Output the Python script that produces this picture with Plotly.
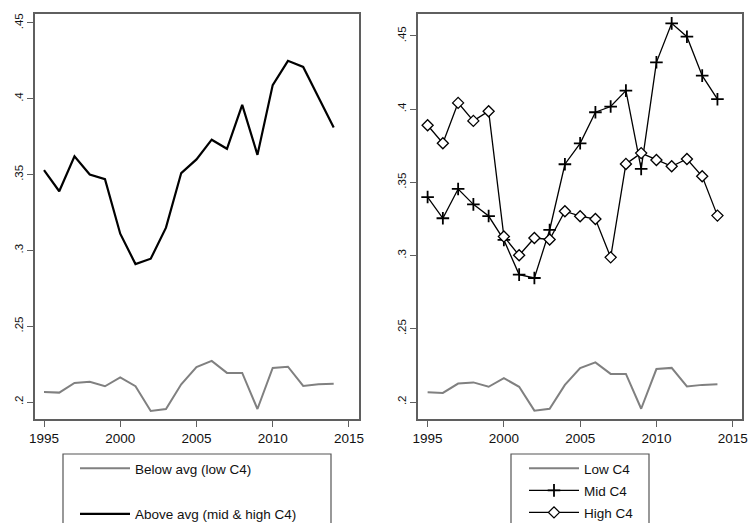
import plotly.graph_objects as go

years = list(range(1995, 2015))
low_c4 = [0.2066, 0.2062, 0.2126, 0.2134, 0.2104, 0.2163, 0.2104, 0.1941, 0.1954, 0.2117,
          0.2231, 0.2271, 0.2192, 0.2192, 0.1954, 0.2225, 0.2233, 0.2106, 0.2117, 0.2121]
above_avg = [0.353, 0.339, 0.362, 0.350, 0.347, 0.311, 0.291, 0.2945, 0.315, 0.351,
             0.360, 0.373, 0.367, 0.396, 0.363, 0.409, 0.425, 0.421, 0.401, 0.381]
mid_c4 = [0.340, 0.3255, 0.3455, 0.335, 0.327, 0.3107, 0.287, 0.2847, 0.3175, 0.3624,
          0.3767, 0.3979, 0.4018, 0.4127, 0.3592, 0.432, 0.4586, 0.4495, 0.4229, 0.4068]
high_c4 = [0.389, 0.3767, 0.4043, 0.392, 0.3986, 0.313, 0.3002, 0.312, 0.311, 0.3303,
           0.3269, 0.325, 0.2988, 0.3626, 0.370, 0.3653, 0.361, 0.366, 0.3542, 0.3273]

x_ticks = [1995, 2000, 2005, 2010, 2015]
y_ticks = [0.2, 0.25, 0.3, 0.35, 0.4, 0.45]
y_ticktext = [".2", ".25", ".3", ".35", ".4", ".45"]

GRAY = "#808080"
FRAME = "#5f5f5f"
FONT = "Liberation Sans, Arial, Helvetica, sans-serif"
W, H = 748, 523

fig = go.Figure()

# Left panel
fig.add_trace(go.Scatter(x=years, y=low_c4, mode="lines", name="Below avg (low C4)",
                         line=dict(color=GRAY, width=2), xaxis="x", yaxis="y",
                         legend="legend", legendgroup="a"))
fig.add_trace(go.Scatter(x=years, y=above_avg, mode="lines", name="Above avg (mid & high C4)",
                         line=dict(color="black", width=2.2), xaxis="x", yaxis="y",
                         legend="legend", legendgroup="b"))

# Right panel
fig.add_trace(go.Scatter(x=years, y=low_c4, mode="lines", name="Low C4",
                         line=dict(color=GRAY, width=2), xaxis="x2", yaxis="y2",
                         legend="legend2", legendgroup="c"))
fig.add_trace(go.Scatter(x=years, y=mid_c4, mode="lines+markers", name="Mid C4",
                         line=dict(color="black", width=1.3),
                         marker=dict(symbol="cross-thin", size=9, color="black",
                                     line=dict(color="black", width=1.8)),
                         xaxis="x2", yaxis="y2", legend="legend2", legendgroup="d"))
fig.add_trace(go.Scatter(x=years, y=high_c4, mode="lines+markers", name="High C4",
                         line=dict(color="black", width=1.3),
                         marker=dict(symbol="diamond", size=8.5, color="white",
                                     line=dict(color="black", width=1.3)),
                         xaxis="x2", yaxis="y2", legend="legend2", legendgroup="e"))


def px_x(a, b):
    return [a / W, b / W]


y_dom = [1 - 419 / H, 1 - 14 / H]

axis_common = dict(showgrid=False, zeroline=False, showline=True, mirror=True,
                   linecolor=FRAME, linewidth=1.6, ticks="outside", ticklen=6,
                   tickwidth=1.2, tickcolor=FRAME)
xfont = dict(family=FONT, size=13.5, color="#111")
yfont = dict(family=FONT, size=11.5, color="#111")

legend_style = dict(xanchor="left", yanchor="top", borderwidth=0,
                    bgcolor="rgba(0,0,0,0)", itemwidth=50,
                    font=dict(family=FONT, size=13.5, color="#111"))

fig.update_layout(
    width=W, height=H,
    margin=dict(l=0, r=0, t=0, b=0, autoexpand=False),
    paper_bgcolor="white", plot_bgcolor="white",
    font=dict(family=FONT, color="#111"),
    xaxis=dict(domain=px_x(35, 359), range=[1994.41, 2015.66], tickvals=x_ticks,
               anchor="y", tickfont=xfont, **axis_common),
    yaxis=dict(domain=y_dom, range=[0.1888, 0.4559], tickvals=y_ticks,
               ticktext=y_ticktext, tickangle=-90, anchor="x", tickfont=yfont,
               **axis_common),
    xaxis2=dict(domain=px_x(418, 742), range=[1994.37, 2015.61], tickvals=x_ticks,
                anchor="y2", tickfont=xfont, **axis_common),
    yaxis2=dict(domain=y_dom, range=[0.1884, 0.465], tickvals=y_ticks,
                ticktext=y_ticktext, tickangle=-90, anchor="x2", tickfont=yfont,
                **axis_common),
    legend=dict(x=75 / W, y=1 - 453 / H, tracegroupgap=25, **legend_style),
    legend2=dict(x=524 / W, y=1 - 453 / H, tracegroupgap=1.5, **legend_style),
    showlegend=True,
    shapes=[
        dict(type="rect", xref="paper", yref="paper", x0=63 / W, x1=331 / W,
             y0=-0.05, y1=1 - 454 / H, line=dict(color="#555", width=1.2)),
        dict(type="rect", xref="paper", yref="paper", x0=511 / W, x1=649 / W,
             y0=-0.05, y1=1 - 454 / H, line=dict(color="#555", width=1.2)),
    ],
)

fig.write_html("out.html", config={"displayModeBar": False},
               post_script="document.body.style.margin='0';document.body.style.overflow='hidden';")
